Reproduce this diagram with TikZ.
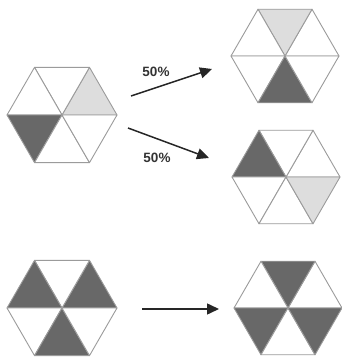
\documentclass[tikz,border=0pt]{standalone}
\usepackage{fontspec}
\setsansfont{Liberation Sans}
\usepackage{xcolor}
\definecolor{hexedge}{RGB}{155,155,155}
\definecolor{hexlight}{RGB}{221,221,221}
\definecolor{hexdark}{RGB}{104,104,104}
\usepackage{tikz}
\usetikzlibrary{arrows.meta}
\tikzset{
  hex cell/.style={draw=hexedge, line width=0.9pt, line join=round},
  flow arrow/.style={-{Triangle[length=12pt, width=11pt]}, line width=1.5pt, black!85},
  flow label/.style={font=\sffamily\bfseries\fontsize{13.5}{15}\selectfont, text=black!80},
}
\begin{document}
\begin{tikzpicture}[x=1pt, y=1pt]
  \useasboundingbox (0,0) rectangle (341,358);
  \def \rbig{55pt}
  \def \rsml{54pt}
  % hexagon centres
  \coordinate (start) at (62,243);
  \coordinate (upper) at (285,302);
  \coordinate (lower) at (286,181);
  \coordinate (trio) at (62,50);
  \coordinate (flip) at (288,50);
  % six cells each, counted anticlockwise from the right vertex
  \foreach \k/\c in {0/hexlight,1/white,2/white,3/hexdark,4/white,5/white}
    \filldraw[hex cell, fill=\c] (start) -- ++(\k*60:\rbig) -- ++(\k*60+120:\rbig) -- cycle;
  \foreach \k/\c in {0/white,1/hexlight,2/white,3/white,4/hexdark,5/white}
    \filldraw[hex cell, fill=\c] (upper) -- ++(\k*60:\rsml) -- ++(\k*60+120:\rsml) -- cycle;
  \foreach \k/\c in {0/white,1/white,2/hexdark,3/white,4/white,5/hexlight}
    \filldraw[hex cell, fill=\c] (lower) -- ++(\k*60:\rsml) -- ++(\k*60+120:\rsml) -- cycle;
  \foreach \k/\c in {0/hexdark,1/white,2/hexdark,3/white,4/hexdark,5/white}
    \filldraw[hex cell, fill=\c] (trio) -- ++(\k*60:\rbig) -- ++(\k*60+120:\rbig) -- cycle;
  \foreach \k/\c in {0/white,1/hexdark,2/white,3/hexdark,4/white,5/hexdark}
    \filldraw[hex cell, fill=\c] (flip) -- ++(\k*60:\rsml) -- ++(\k*60+120:\rsml) -- cycle;
  % arrows
  \coordinate (a1s) at (131,262); \coordinate (a1e) at (212,289);
  \coordinate (a2s) at (128,230); \coordinate (a2e) at (209,200);
  \coordinate (a3s) at (142,49);  \coordinate (a3e) at (219,49);
  \draw[flow arrow] (a1s) -- (a1e);
  \draw[flow arrow] (a2s) -- (a2e);
  \draw[flow arrow] (a3s) -- (a3e);
  \node[flow label] (p1) at (156,286) {50\%};
  \node[flow label] (p2) at (157,200) {50\%};
\end{tikzpicture}
\end{document}
